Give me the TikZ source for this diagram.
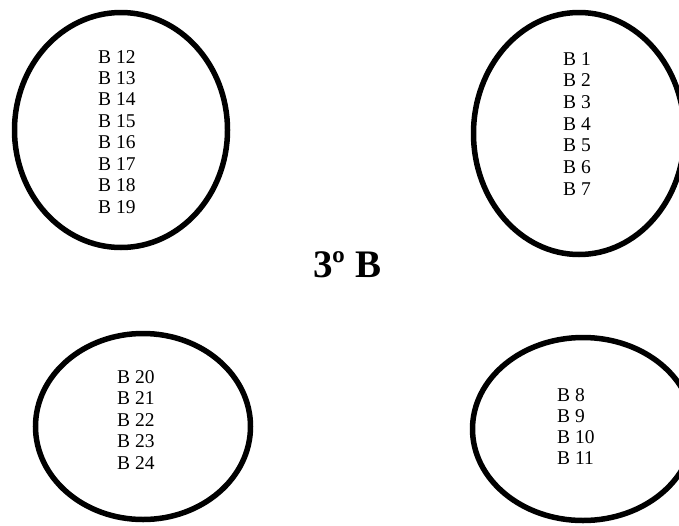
\documentclass[tikz,border=0pt]{standalone}
\usepackage{fontspec}
\setmainfont{Liberation Serif}
\usetikzlibrary{shapes.geometric}
\begin{document}
\begin{tikzpicture}[x=1pt,y=-1pt,
  group/.style={draw=black, line width=5.5pt, ellipse, inner sep=0pt, outer sep=0pt},
  lbl/.style={inner sep=0pt, anchor=base west, font=\fontsize{19.5}{21.5}\selectfont},
  ttl/.style={inner sep=0pt, anchor=base, font=\fontsize{39}{42}\selectfont\bfseries}]
\useasboundingbox (0,0) rectangle (679,525);
% groups
\node[group, minimum width=213pt, minimum height=235pt] (g1) at (121,130) {};
\node[group, minimum width=211pt, minimum height=242pt] (g2) at (579,133.5) {};
\node[group, minimum width=215pt, minimum height=186pt] (g3) at (143,426.5) {};
\node[group, minimum width=221pt, minimum height=183pt] (g4) at (583,429) {};
% labels
\foreach \n [count=\k from 0] in {12,...,19}
  \node[lbl] (b\n) at (98,63+21.43*\k) {B \n};
\foreach \n [count=\k from 0] in {1,...,7}
  \node[lbl] (b\n) at (563,65+21.67*\k) {B \n};
\foreach \n [count=\k from 0] in {20,...,24}
  \node[lbl] (b\n) at (117,383+21.5*\k) {B \n};
\foreach \n [count=\k from 0] in {8,...,11}
  \node[lbl] (b\n) at (557,401+21.33*\k) {B \n};
% title
\node[ttl] (title) at (347.5,277) {3º B};
\end{tikzpicture}
\end{document}
